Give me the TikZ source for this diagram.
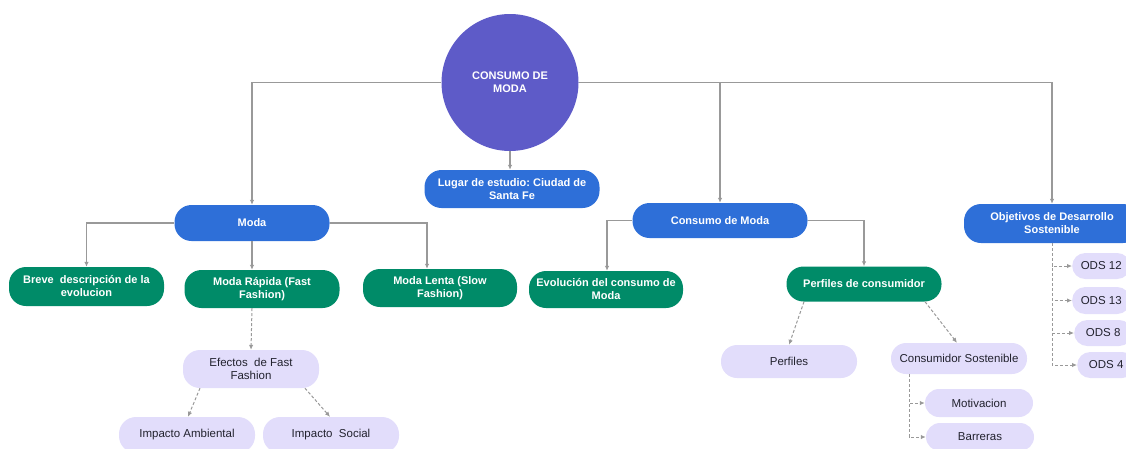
\documentclass[tikz,border=0pt]{standalone}
\usepackage{fontspec}
\setmainfont{Liberation Sans}
\usetikzlibrary{arrows.meta,calc}
\definecolor{cblue}{HTML}{2E6FD8}
\definecolor{cgreen}{HTML}{008B68}
\definecolor{clav}{HTML}{E2DDFB}
\definecolor{cpurp}{HTML}{5E5BC8}
\definecolor{cline}{HTML}{999999}
\definecolor{ctext}{HTML}{22222E}
\frenchspacing
\begin{document}
\begin{tikzpicture}[x=1pt,y=-1pt,
  base/.style={align=center,inner sep=0pt,font=\fontsize{11.5}{13}\selectfont},
  bluebox/.style={base,fill=cblue,text=white,font=\bfseries\fontsize{11}{13}\selectfont,rounded corners=17pt},
  greenbox/.style={base,fill=cgreen,text=white,font=\bfseries\fontsize{11}{13}\selectfont,rounded corners=17pt},
  lavbox/.style={base,fill=clav,text=ctext,rounded corners=#1},
  lavbox/.default=14pt,
  conn/.style={draw=cline,line width=1.3pt,-{Latex[length=5pt,width=4.5pt]}},
  dconn/.style={draw=cline,line width=1pt,dash pattern=on 3pt off 2pt,-{Latex[length=5pt,width=4.5pt]}}
]
\useasboundingbox (0,0) rectangle (1126,448);

% root
\node[circle,fill=cpurp,text=white,minimum size=137pt,inner sep=0pt,align=center,
      font=\bfseries\fontsize{11}{13}\selectfont] (root) at (510,82.5) {CONSUMO DE\\MODA};

% level 1
\node[bluebox,minimum width=175pt,minimum height=38pt] (lugar) at (512,189) {Lugar de estudio: Ciudad de\\Santa Fe};
\node[bluebox,minimum width=155pt,minimum height=36pt] (moda) at (252,223) {Moda};
\node[bluebox,minimum width=175pt,minimum height=35pt] (cmoda) at (720,220.5) {Consumo de Moda};
\node[bluebox,minimum width=176pt,minimum height=39pt] (obj) at (1052,223.5) {Objetivos de Desarrollo\\Sostenible};

% level 2
\node[greenbox,minimum width=155pt,minimum height=39pt] (breve) at (86.5,286.5) {Breve\ \ descripción de la\\evolucion};
\node[greenbox,minimum width=155pt,minimum height=38pt] (rapida) at (262,289) {Moda Rápida (Fast\\Fashion)};
\node[greenbox,minimum width=154pt,minimum height=38pt] (lenta) at (440,288) {Moda Lenta (Slow\\Fashion)};
\node[greenbox,minimum width=154pt,minimum height=37pt] (evol) at (606,289.5) {Evolución del consumo de\\Moda};
\node[greenbox,minimum width=155pt,minimum height=35pt] (perfc) at (864,284) {Perfiles de consumidor};

% level 3
\node[lavbox=17pt,minimum width=136pt,minimum height=38pt] (efectos) at (251,369) {Efectos\ \ de Fast\\Fashion};
\node[lavbox=17pt,minimum width=136pt,minimum height=36pt] (amb) at (187,435) {Impacto Ambiental};
\node[lavbox=17pt,minimum width=136pt,minimum height=36pt] (soc) at (331,435) {Impacto\ \ Social};
\node[lavbox=16pt,minimum width=136pt,minimum height=33pt] (perf) at (789,361.5) {Perfiles};
\node[lavbox=15pt,minimum width=136pt,minimum height=31pt] (sost) at (959,358.5) {Consumidor Sostenible};
\node[lavbox=14pt,minimum width=108pt,minimum height=28pt] (motiv) at (979,403) {Motivacion};
\node[lavbox=14pt,minimum width=108pt,minimum height=28pt] (barr) at (980,437) {Barreras};

% ODS
\node[lavbox=13pt,minimum width=58pt,minimum height=26pt,anchor=west] (o12) at (1072,266) {ODS 12};
\node[lavbox=13pt,minimum width=58pt,minimum height=27pt,anchor=west] (o13) at (1072,300.5) {ODS 13};
\node[lavbox=13pt,minimum width=58pt,minimum height=26pt,anchor=west] (o8) at (1074,333) {ODS 8};
\node[lavbox=13pt,minimum width=58pt,minimum height=26pt,anchor=west] (o4) at (1077,365) {ODS 4};

% solid connectors
\draw[conn] (root.west) -| (moda.north);
\draw[conn] (root.east) -| (cmoda.north);
\draw[conn] (root.east) -| (obj.north);
\draw[conn] (root.south) -- (root.south |- lugar.north);
\draw[conn] (moda.west) -| (breve.north);
\draw[conn] (moda.south) -- (moda.south |- rapida.north);
\draw[conn] (moda.east) -| ([xshift=-13pt]lenta.north);
\draw[conn] (cmoda.west) -| ([xshift=1pt]evol.north);
\draw[conn] (cmoda.east) -| (perfc.north);

% dashed connectors
\draw[dconn] ([xshift=-10pt]rapida.south) -- (efectos.north);
\draw[dconn] ([xshift=-51pt]efectos.south) -- ([xshift=1pt]amb.north);
\draw[dconn] ([xshift=54pt]efectos.south) -- ([xshift=-1pt]soc.north);
\draw[dconn] ([xshift=-60pt]perfc.south) -- (perf.north);
\draw[dconn] ([xshift=61pt]perfc.south) -- ([xshift=-2pt]sost.north);
\draw[dconn] ([xshift=-50pt]sost.south) |- (motiv.west);
\draw[dconn] ([xshift=-50pt]sost.south) |- (barr.west);
\draw[dconn] (obj.south) |- (o12.west);
\draw[dconn] (obj.south) |- (o13.west);
\draw[dconn] (obj.south) |- (o8.west);
\draw[dconn] (obj.south) |- (o4.west);
\end{tikzpicture}
\end{document}
